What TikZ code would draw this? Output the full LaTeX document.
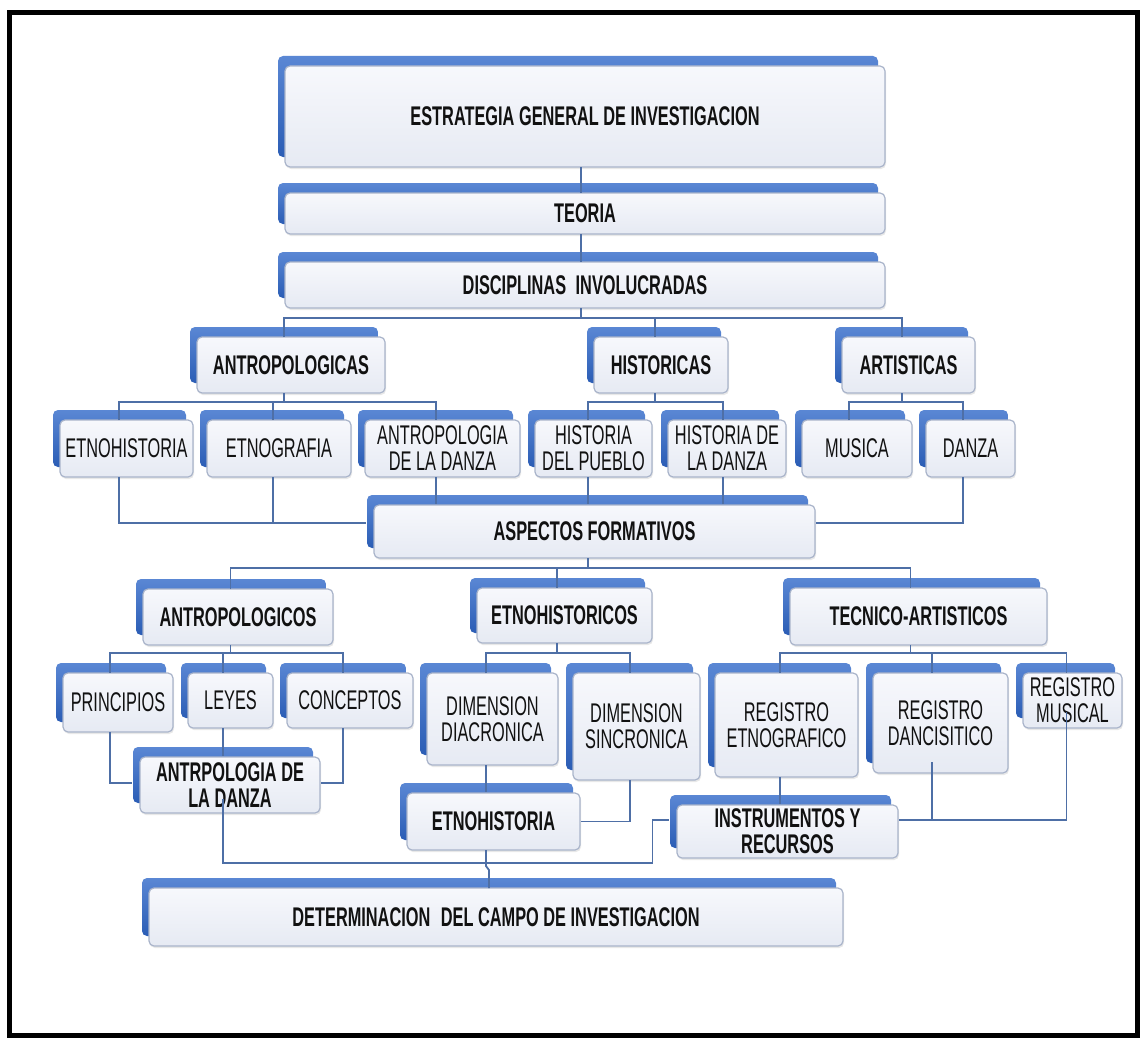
\documentclass[tikz,border=0pt]{standalone}
\usepackage{fontspec}
\setmainfont{Liberation Sans}[FakeStretch=0.605]
\usetikzlibrary{shadows}
\definecolor{tabtop}{HTML}{5A87D4}
\definecolor{tabbot}{HTML}{2B5DB5}
\definecolor{facetop}{HTML}{F7F8FC}
\definecolor{facebot}{HTML}{E6EAF3}
\definecolor{faceline}{HTML}{A9B4CA}
\definecolor{wire}{HTML}{4E6FA6}
\definecolor{ink}{HTML}{111111}
\newcommand\boxfs{\fontsize{27}{26}\selectfont}
\tikzset{
  face/.style={draw=faceline, line width=1.2pt, rounded corners=5pt,
    top color=facetop, bottom color=facebot, text=ink, align=center,
    inner sep=0pt, font=\boxfs,
    drop shadow={shadow xshift=1pt, shadow yshift=-2pt, opacity=0.18}},
  hd/.style={font=\boxfs\bfseries},
  tab/.style={rounded corners=5pt, top color=tabtop, bottom color=tabbot},
  conn/.style={draw=wire, line width=1.8pt},
}
% \tabbox[style]{name}{x1}{y1}{x2}{y2}{stem offset}{text}
% draws the blue tab behind, the light front box (the named node),
% and two stem points (name-t) and (name-b) on its top and bottom edges
\newcommand\tabbox[8][]{%
  \pgfmathsetmacro\tbW{#5-#3}%
  \pgfmathsetmacro\tbH{#6-#4}%
  \pgfmathsetmacro\tbX{(#3+#5)/2}%
  \pgfmathsetmacro\tbY{(#4+#6)/2}%
  \pgfmathsetmacro\tbS{\tbX+(#7)}%
  \pgfmathsetmacro\tbL{#3-7}%
  \pgfmathsetmacro\tbT{#4-10}%
  \pgfmathsetmacro\tbR{#5-7}%
  \pgfmathsetmacro\tbB{#6-10}%
  \shade[tab] (\tbL,\tbT) rectangle (\tbR,\tbB);
  \node[face,#1,minimum width=\tbW pt,minimum height=\tbH pt] (#2) at (\tbX,\tbY) {#8};
  \coordinate (#2-t) at (\tbS,#4);
  \coordinate (#2-b) at (\tbS,#6);
}
\begin{document}
\begin{tikzpicture}[x=1pt,y=-1pt]
\useasboundingbox (0,0) rectangle (1143,1041);
\fill[white] (0,0) rectangle (1143,1041);

% ---- boxes ----
\tabbox[hd]{estr}{285}{66}{885}{167}{-4}{ESTRATEGIA GENERAL DE INVESTIGACION}
\tabbox[hd]{teoria}{285}{193}{885}{234}{-4}{TEORIA}
\tabbox[hd]{disc}{285}{262}{885}{308}{-4}{DISCIPLINAS\hspace{5pt} INVOLUCRADAS}
\tabbox[hd]{antro}{197}{337}{385}{393}{-7}{ANTROPOLOGICAS}
\tabbox[hd]{hist}{594}{337}{728}{393}{-6}{HISTORICAS}
\tabbox[hd]{arti}{842}{337}{975}{393}{-6.5}{ARTISTICAS}
\tabbox{etnoh}{60}{420}{193}{477}{-7.5}{ETNOHISTORIA}
\tabbox{etnog}{207}{420}{351}{477}{-6}{ETNOGRAFIA}
\tabbox{antdanza}{365}{420}{520}{477}{-6.5}{ANTROPOLOGIA\\DE LA DANZA}
\tabbox{histpueblo}{535}{420}{652}{477}{-5.5}{HISTORIA\\DEL PUEBLO}
\tabbox{histdanza}{668}{420}{786}{477}{-4}{HISTORIA DE\\LA DANZA}
\tabbox{musica}{802}{420}{912}{477}{-8}{MUSICA}
\tabbox{danza}{926}{420}{1015}{477}{-7.5}{DANZA}
\tabbox[hd]{aspectos}{374}{505}{815}{558}{-6.5}{ASPECTOS FORMATIVOS}
\tabbox[hd]{antrop}{143}{589}{333}{645}{-7.5}{ANTROPOLOGICOS}
\tabbox[hd]{etnohist}{477}{588}{652}{643}{-7.5}{ETNOHISTORICOS}
\tabbox[hd]{tecnico}{790}{588}{1047}{645}{-8}{TECNICO-ARTISTICOS}
\tabbox{principios}{63}{673}{173}{732}{-8}{PRINCIPIOS}
\tabbox{leyes}{188}{673}{273}{728}{-7.5}{LEYES}
\tabbox{conceptos}{287}{673}{413}{728}{-7}{CONCEPTOS}
\tabbox{diacronica}{427}{673}{558}{765}{-6.5}{DIMENSION\\DIACRONICA}
\tabbox{sincronica}{573}{673}{700}{780}{-6.5}{DIMENSION\\SINCRONICA}
\tabbox{regetno}{715}{673}{858}{777}{-6.5}{REGISTRO\\ETNOGRAFICO}
\tabbox{regdanc}{873}{673}{1008}{773}{-8.5}{REGISTRO\\DANCISITICO}
\tabbox{regmus}{1023}{673}{1122}{728}{-6}{REGISTRO\\MUSICAL}
\tabbox[hd]{antrdanza}{140}{757}{320}{813}{-7}{ANTRPOLOGIA DE\\LA DANZA}
\tabbox[hd]{etnohistoria}{407}{793}{580}{850}{-7.5}{ETNOHISTORIA}
\tabbox[hd]{instr}{677}{805}{898}{858}{-7.5}{INSTRUMENTOS Y\\RECURSOS}
\tabbox[hd]{determ}{149}{888}{843}{946}{-7}{DETERMINACION\hspace{6pt} DEL CAMPO DE INVESTIGACION}

% ---- spine ----
\draw[conn] (estr-b) -- (teoria-t);
\draw[conn] (teoria-b) -- (disc-t);

% ---- disciplines ----
\path (disc-b) ++(0,10) coordinate (busA);
\draw[conn] (disc-b) -- (busA);
\draw[conn] (antro-t) |- (busA) -| (arti-t);
\draw[conn] (busA) -| (hist-t);

\path (antro-b) ++(0,9) coordinate (busB);
\draw[conn] (antro-b) -- (busB);
\draw[conn] (etnoh-t) |- (busB) -| (antdanza-t);
\draw[conn] (busB) -| (etnog-t);

\path (hist-b) ++(0,9) coordinate (busC);
\draw[conn] (hist-b) -- (busC);
\draw[conn] (histpueblo-t) |- (busC) -| (histdanza-t);

\path (arti-b) ++(0,9) coordinate (busD);
\draw[conn] (arti-b) -- (busD);
\draw[conn] (musica-t) |- (busD) -| (danza-t);

% ---- into the formative aspects ----
\coordinate (aspL) at ([xshift=-7pt,yshift=8.5pt]aspectos.west);
\coordinate (aspR) at ([yshift=8.5pt]aspectos.east);
\draw[conn] (etnoh-b) |- (aspL);
\draw[conn] (etnog-b) -- (etnog-b |- aspL);
\draw[conn] (antdanza-b) -- (antdanza-b |- aspectos.north);
\draw[conn] (histpueblo-b) -- (histpueblo-b |- aspectos.north);
\draw[conn] (histdanza-b) -- (histdanza-b |- aspectos.north);
\draw[conn] (danza-b) |- (aspR);

% ---- formative aspects ----
\path (aspectos-b) ++(0,10) coordinate (busE);
\draw[conn] (aspectos-b) -- (busE);
\draw[conn] (antrop-t) |- (busE) -| (tecnico-t);
\draw[conn] (busE) -| (etnohist-t);

\path (antrop-b) ++(0,8) coordinate (busF);
\draw[conn] (antrop-b) -- (busF);
\draw[conn] (principios-t) |- (busF) -| (conceptos-t);
\draw[conn] (busF) -| (leyes-t);

\path (etnohist-b) ++(0,10) coordinate (busG);
\draw[conn] (etnohist-b) -- (busG);
\draw[conn] (diacronica-t) |- (busG) -| (sincronica-t);

\path (tecnico-b) ++(0,8) coordinate (busH);
\draw[conn] (tecnico-b) -- (busH);
\draw[conn] (regetno-t) |- (busH) -| (regmus-t);
\draw[conn] (busH) -| (regdanc-t);

% ---- lower level ----
\coordinate (adL) at ([xshift=-7pt,yshift=2pt]antrdanza.west);
\coordinate (adR) at ([yshift=2pt]antrdanza.east);
\draw[conn] (principios-b) |- (adL);
\draw[conn] (conceptos-b) |- (adR);
\draw[conn] (leyes-b) -- (leyes-b |- antrdanza.north);

\draw[conn] (diacronica-b) -- (diacronica-b |- etnohistoria.north);
\draw[conn] (sincronica-b) |- (etnohistoria.east);

\coordinate (inR) at ([yshift=11.5pt]instr.east);
\coordinate (inL) at ([xshift=-7pt,yshift=11.5pt]instr.west);
\coordinate (rdIn) at ([xshift=-8.5pt,yshift=-39pt]regdanc.center);
\coordinate (rmIn) at ([xshift=-6pt,yshift=-11.5pt]regmus.center);
\draw[conn] (regetno-b) -- (regetno-b |- instr.north);
\draw[conn] (rdIn) |- (inR);
\draw[conn] (rmIn) |- (inR);

% ---- to the field of research ----
\coordinate (adIn) at ([xshift=-7pt,yshift=-14pt]antrdanza.center);
\path (etnohistoria-b) ++(0,13) coordinate (lowJ);
\path (inL) ++(-17,0) coordinate (inK);
\draw[conn] (adIn) |- (lowJ) -| (inK) -- (inL);
\draw[conn] (etnohistoria-b) -- (lowJ) -- ++(0,3) -- ++(3,4) |- (determ-t);

% ---- frame ----
\draw[line width=5pt] (9.5,12.5) rectangle (1137,1035);
\end{tikzpicture}
\end{document}
